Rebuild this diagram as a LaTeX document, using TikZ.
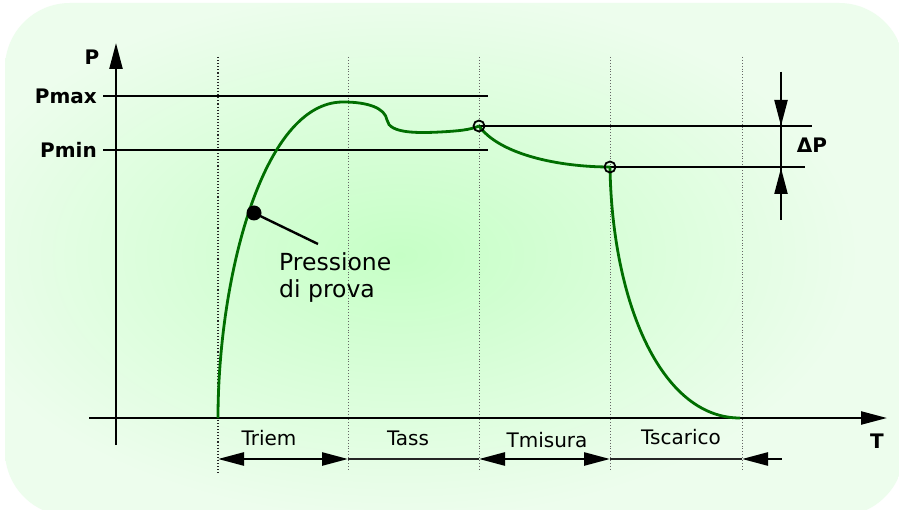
\documentclass[tikz,border=0pt]{standalone}
\usepackage{fontspec}
\setmainfont{DejaVu Sans}
\usetikzlibrary{arrows.meta}
\definecolor{bgin}{RGB}{198,255,198}
\definecolor{bgout}{RGB}{237,253,237}
\definecolor{curvegreen}{RGB}{0,110,0}
\begin{document}
\begin{tikzpicture}[x=1pt,y=-1pt,
  lbl/.style={font=\fontsize{20}{24}\selectfont, inner sep=0pt},
  blbl/.style={font=\fontsize{20}{24}\selectfont\bfseries, inner sep=0pt},
  bigtip/.tip={Triangle[length=26pt,width=13pt]},
  midtip/.tip={Triangle[length=26pt,width=13pt]},
  axisline/.style={line width=2.3pt, -bigtip},
  gridline/.style={dotted, black!60, line width=0.9pt},
  firstgrid/.style={dotted, black!85, line width=1.1pt},
  refline/.style={line width=2.2pt},
  curveline/.style={draw=curvegreen, line width=2.8pt},
  dimline/.style={line width=2.6pt},
  thinline/.style={line width=2pt, black!85},
  ring/.style={draw=black, line width=1.8pt}]
\useasboundingbox (0,0) rectangle (899,510);
\fill[white] (0,0) rectangle (899,510);
\begin{scope}
\clip[rounded corners=65pt] (5,3) rectangle (904,516);
\shade[inner color=bgin, outer color=bgout] (-60,-10) rectangle (860,520);
\fill[bgout] (860,-10) rectangle (910,520);
\end{scope}

% key coordinates
\coordinate (ybot) at (116,445);
\coordinate (ytop) at (116,43);
\coordinate (xl) at (89,418);
\coordinate (xr) at (887,418);
\coordinate (start) at (218,418);
\coordinate (peak) at (343,102);
\coordinate (notch) at (387,120);
\coordinate (c1) at (479,126);
\coordinate (c2) at (610,167);
\coordinate (fin) at (740,418);

% dotted time dividers
\draw[firstgrid] (218,57) -- (218,473);
\foreach \x in {348,479,610,742}
  \draw[gridline] (\x,57) -- (\x,470);

% axes
\draw[axisline] (ybot) -- (ytop);
\draw[axisline] (xl) -- (xr);

% reference lines
\draw[refline] (103,96) -- (488,96);
\draw[refline] (103,150) -- (488,150);
\draw[refline] (c1) -- (812,126);
\draw[refline] (c2) -- (805,167);

% pressure curve
\draw[curveline] (start) .. controls (218,280) and (262,102) .. (peak)
  .. controls (368,102) and (385,108) .. (notch)
  .. controls (389,134) and (420,133) .. (440,132)
  .. controls (458,131) and (470,130) .. (c1);
\draw[curveline] (c1) .. controls (500,155) and (560,167) .. (c2);
\draw[curveline] (c2) .. controls (612,300) and (660,418) .. (fin);

% measure points
\draw[ring] (c1) circle (5.5);
\draw[ring] (c2) circle (5.5);

% delta P
\coordinate (dtop) at (781,72);
\coordinate (dbot) at (781,220);
\draw[refline] (dtop) -- (dbot);
\draw[refline, -bigtip] (dtop) -- (781,126);
\draw[refline, -bigtip] (dbot) -- (781,168);
\node[blbl] (dp) at (812,145) {ΔP};

% test pressure
\coordinate (dot) at (254,213);
\fill (dot) circle (7.5);
\node[lbl, font=\fontsize{23.5}{27}\selectfont, align=left, anchor=north west] (prova) at (279,252) {Pressione\\di prova};
\coordinate (lead) at (318,244);
\draw[line width=2.4pt] (dot) -- (lead);

% axis labels
\node[blbl] (P) at (92,57) {P};
\node[blbl, anchor=east] (pmax) at (97,96) {Pmax};
\node[blbl, anchor=east] (pmin) at (97,150) {Pmin};
\node[blbl] (T) at (877,441) {T};

% time spans
\coordinate (t0) at (218,459);
\coordinate (t1) at (348,459);
\coordinate (t2) at (479,459);
\coordinate (t3) at (610,459);
\coordinate (t4) at (742,459);
\coordinate (t5) at (782,459);
\draw[dimline, midtip-midtip] (t0) -- (t1);
\draw[thinline] (t1) -- (t2);
\draw[dimline, midtip-midtip] (t2) -- (t3);
\draw[thinline] (t3) -- (t4);
\draw[dimline, midtip-] (t4) -- (t5);

\node[lbl] (triem) at (269,438) {Triem};
\node[lbl] (tass) at (408,438) {Tass};
\node[lbl] (tmis) at (547,440) {Tmisura};
\node[lbl] (tsca) at (681,437) {Tscarico};
\end{tikzpicture}
\end{document}
